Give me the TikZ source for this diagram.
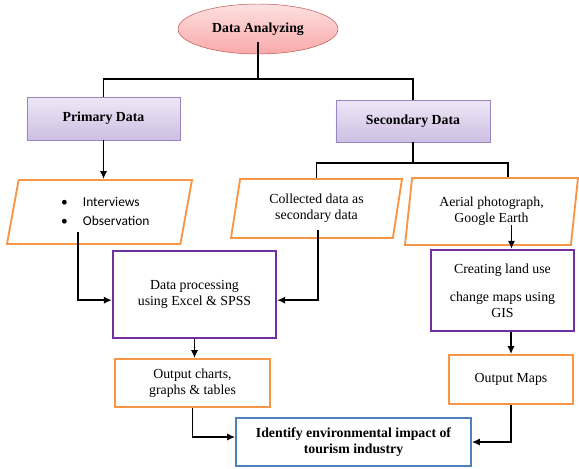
\documentclass[tikz,border=0pt]{standalone}
\usepackage{fontspec}
\setmainfont{Liberation Serif}
\newfontfamily\calibri{Carlito}
\usetikzlibrary{shapes.geometric, arrows.meta}
\definecolor{boxorange}{HTML}{F79646}
\definecolor{boxpurple}{HTML}{7030A0}
\definecolor{boxblue}{HTML}{4F81BD}
\definecolor{lavtop}{HTML}{EEE7F7}
\definecolor{lavbot}{HTML}{CDBFE3}
\definecolor{lavline}{HTML}{9A85BF}
\definecolor{pinktop}{HTML}{FDE0E0}
\definecolor{pinkbot}{HTML}{F9A9A9}
\definecolor{pinkline}{HTML}{C0504D}

\begin{document}
\begin{tikzpicture}[x=0.03cm, y=-0.03cm,
  font=\fontsize{11.8}{13.8}\selectfont,
  topbox/.style={ellipse, draw=pinkline, top color=pinktop, bottom color=pinkbot, minimum width=4.8cm, minimum height=1.5cm, font=\fontsize{11.8}{13.8}\selectfont\bfseries},
  databox/.style={draw=lavline, line width=0.8pt, top color=lavtop, bottom color=lavbot, font=\fontsize{11.8}{13.8}\selectfont\bfseries},
  inbox/.style={trapezium, trapezium stretches body, draw=boxorange, line width=1.6pt, fill=white, align=center},
  workbox/.style={draw=boxpurple, line width=2pt, fill=white, align=center},
  outbox/.style={draw=boxorange, line width=1.6pt, fill=white, align=center},
  endbox/.style={draw=boxblue, line width=1.4pt, fill=white, align=center, font=\fontsize{11.8}{13.8}\selectfont\bfseries},
  conn/.style={line width=1.5pt},
  arr/.style={line width=1.5pt, -{Latex[length=2.4mm, width=2.2mm]}}]
\useasboundingbox (0,0) rectangle (579,468);

% top level
\node[topbox] (da) at (258, 29) {Data Analyzing};
\node[databox, minimum width=4.59cm, minimum height=1.29cm] (pd) at (103.5, 118.5) {Primary Data};
\node[databox, minimum width=4.62cm, minimum height=1.26cm] (sd) at (413, 121) {Secondary Data};
\coordinate (split) at (258, 79);
\coordinate (split2) at (413, 163);

% sources
\node[inbox, trapezium left angle=76, trapezium right angle=104, minimum width=5.55cm, minimum height=1.92cm] (p1) at (99.5, 212)
  {\hspace{0.35cm}\fontsize{11.5}{13.8}\calibri\renewcommand\arraystretch{1.2}\begin{tabular}{@{}l@{\hspace{0.45cm}}l@{}}\textbullet & Interviews\\ \textbullet & Observation\end{tabular}};
\node[inbox, trapezium left angle=76, trapezium right angle=104, minimum width=5.13cm, minimum height=1.77cm] (p2) at (316.5, 208.5) {Collected data as\\ secondary data};
\node[inbox, trapezium left angle=79, trapezium right angle=101, minimum width=5.19cm, minimum height=2.01cm] (p3) at (491.5, 211.5) {Aerial photograph,\\ Google Earth};

% processing
\node[workbox, minimum width=4.89cm, minimum height=2.61cm] (dp) at (194.5, 294.5) {Data processing\\ using Excel \& SPSS};
\node[workbox, minimum width=4.29cm, minimum height=2.43cm] (cl) at (502.5, 290.5) {Creating land use\\[0.36cm] change maps using\\ GIS};
\node[outbox, minimum width=4.65cm, minimum height=1.44cm] (oc) at (192.5, 383) {Output charts,\\ graphs \& tables};
\node[outbox, minimum width=3.72cm, minimum height=1.47cm] (om) at (511, 379.5) {Output Maps};
\node[endbox, minimum width=7.05cm, minimum height=1.44cm] (ie) at (353.5, 442) {Identify environmental impact of\\ tourism industry};

% connectors
\draw[conn] ([yshift=-0.39cm]da.center) -- (split);
\draw[conn] (pd.north) |- (split) -| (sd.north);
\draw[arr] (pd.south) -- (pd.south |- p1.north);
\draw[conn] (sd.south) -- (split2);
\draw[conn] (p2.north) |- (split2) -| ([xshift=0.5cm]p3.north);
\coordinate (p1out) at ([xshift=-0.65cm, yshift=-0.6cm]p1.center);
\coordinate (p2out) at ([xshift=0.05cm, yshift=-0.65cm]p2.center);
\coordinate (p3out) at ([xshift=0.6cm, yshift=-0.4cm]p3.center);
\draw[arr] (p1out) |- ([yshift=-0.17cm]dp.west);
\draw[arr] (p2out) |- ([yshift=-0.17cm]dp.east);
\draw[arr] (p3out) -- (p3out |- cl.north);
\draw[arr] (dp.south) -- (dp.south |- oc.north);
\draw[arr] (cl.south -| om.north) -- (om.north);
\draw[arr] (oc.south) |- ([yshift=0.15cm]ie.west);
\draw[arr] (om.south) |- (ie.east);
\end{tikzpicture}
\end{document}
